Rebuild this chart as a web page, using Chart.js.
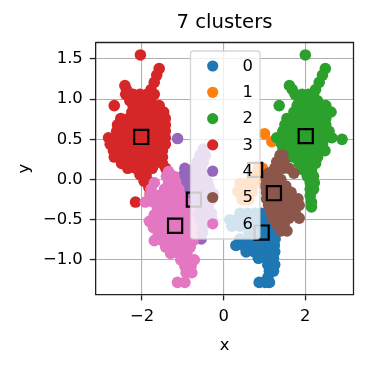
<!DOCTYPE html>
<html><head><meta charset="utf-8">
<script src="https://cdn.jsdelivr.net/npm/chart.js@4/dist/chart.umd.min.js"></script>
<style>html,body{margin:0;padding:0;background:#fff;}#wrap{width:369px;height:369px;}</style>
</head><body><div id="wrap"><canvas id="c" width="369" height="369"></canvas></div>
<script>
const titleText = '7 clusters';
const xLabel = 'x';
const yLabel = 'y';
const clusterLabels = ['0','1','2','3','4','5','6'];
const clusterColors = ['#1f77b4','#ff7f0e','#2ca02c','#d62728','#9467bd','#8c564b','#e377c2'];
const xTicks = [-2, 0, 2];
const yTicks = [-1.0, -0.5, 0.0, 0.5, 1.0, 1.5];
const xRange = [-3.14, 3.18];
const yRange = [-1.433, 1.705];

// each cluster: rows of [y, [x values of points at that y]]
const cluster0 = [
  [-0.42, [0.40, 0.58, 0.76, 0.92]],
  [-0.50, [0.15, 0.32, 0.50, 0.68, 0.86, 1.00]],
  [-0.58, [0.20, 0.40, 0.58, 0.76, 0.94, 1.10]],
  [-0.66, [0.62, 0.80, 0.98, 1.14]],
  [-0.74, [0.40, 0.58, 0.76, 0.94, 1.12, 1.26]],
  [-0.82, [0.30, 0.48, 0.66, 0.86, 1.04, 1.24]],
  [-0.90, [0.55, 0.75, 0.95, 1.15, 1.25]],
  [-0.98, [0.85, 1.05, 1.22]],
  [-1.06, [1.08, 1.25]],
  [-1.14, [1.12, 1.22]],
  [-1.22, [1.08]],
  [-1.28, [0.87, 1.02, 1.12]]
];
const cluster1 = [
  [0.57, [1.00]],
  [0.47, [1.18]],
  [0.14, [0.85, 0.95]],
  [0.05, [0.75, 0.88]],
  [-0.05, [0.40, 0.58, 0.75]],
  [-0.15, [0.35, 0.52, 0.70]],
  [-0.25, [0.45, 0.62]]
];
const cluster2 = [
  [1.55, [2.00]],
  [1.38, [2.49]],
  [1.30, [2.42]],
  [1.21, [2.34]],
  [1.17, [1.61]],
  [1.12, [1.68, 2.25]],
  [1.06, [1.75, 1.92, 2.08, 2.20]],
  [0.98, [1.85, 2.00, 2.15, 2.30]],
  [0.92, [1.36, 1.80, 1.97, 2.15, 2.32, 2.50]],
  [0.84, [1.72, 1.90, 2.10, 2.30, 2.50, 2.63]],
  [0.76, [1.55, 1.75, 1.95, 2.15, 2.35, 2.50]],
  [0.68, [1.50, 1.70, 1.90, 2.10, 2.30, 2.50]],
  [0.60, [1.45, 1.65, 1.85, 2.05, 2.25, 2.45, 2.58]],
  [0.52, [1.30, 1.50, 1.70, 1.90, 2.10, 2.30, 2.50, 2.65]],
  [0.50, [2.90]],
  [0.44, [1.42, 1.62, 1.82, 2.02, 2.22, 2.42]],
  [0.36, [1.45, 1.65, 1.85, 2.05, 2.25, 2.48]],
  [0.28, [1.70, 1.90, 2.10, 2.30]],
  [0.20, [1.85, 2.05, 2.25]],
  [0.12, [1.95, 2.15]],
  [0.04, [2.05, 2.20]],
  [-0.04, [2.12, 2.22]],
  [-0.12, [2.12, 2.20]],
  [-0.20, [2.12]],
  [-0.28, [2.15]],
  [-0.34, [2.15]]
];
const cluster3 = [
  [1.55, [-2.04]],
  [1.38, [-1.58]],
  [1.30, [-1.64]],
  [1.21, [-1.70]],
  [1.17, [-2.42]],
  [1.12, [-2.38, -1.78]],
  [1.06, [-2.40, -2.22, -2.05, -1.88, -1.70]],
  [0.98, [-2.30, -2.12, -1.95, -1.80]],
  [0.92, [-2.68, -2.22, -2.05, -1.88, -1.70, -1.58]],
  [0.84, [-2.25, -2.05, -1.85, -1.65, -1.47]],
  [0.76, [-2.52, -2.33, -2.13, -1.93, -1.73, -1.53, -1.43]],
  [0.68, [-2.60, -2.40, -2.20, -2.00, -1.80, -1.60, -1.43]],
  [0.60, [-2.62, -2.42, -2.22, -2.02, -1.82, -1.62, -1.43]],
  [0.52, [-2.82, -2.62, -2.42, -2.22, -2.02, -1.82, -1.62, -1.43]],
  [0.44, [-2.78, -2.58, -2.38, -2.18, -1.98, -1.78, -1.58, -1.43]],
  [0.36, [-2.70, -2.50, -2.30, -2.10, -1.90, -1.70, -1.50]],
  [0.28, [-2.68, -2.48, -2.28, -2.08, -1.88, -1.68, -1.50]],
  [0.20, [-2.50, -2.30, -2.10, -1.90, -1.70, -1.50]],
  [0.14, [-2.35, -2.15, -1.95, -1.75, -1.42]],
  [0.06, [-2.05, -1.90]],
  [-0.02, [-1.95, -1.85]],
  [-0.10, [-1.83]],
  [-0.18, [-1.80]],
  [-0.28, [-2.16]]
];
const cluster4 = [
  [0.51, [-1.13]],
  [0.38, [-0.50]],
  [0.30, [-0.58, -0.45]],
  [0.22, [-0.65, -0.50]],
  [0.14, [-0.95, -0.70, -0.55]],
  [0.06, [-0.98, -0.80, -0.62, -0.45]],
  [-0.02, [-0.92, -0.75, -0.58, -0.40]],
  [-0.10, [-0.90, -0.72, -0.55, -0.35]],
  [-0.18, [-0.95, -0.78, -0.60, -0.42, -0.25]],
  [-0.26, [-0.85, -0.68, -0.50, -0.32]],
  [-0.34, [-0.72, -0.55, -0.38]],
  [-0.42, [-0.65, -0.48, -0.30]],
  [-0.50, [-0.62, -0.45, -0.28]],
  [-0.58, [-0.65, -0.50]],
  [-0.66, [-0.68, -0.52]],
  [-0.74, [-0.55]]
];
const cluster5 = [
  [0.30, [1.38, 1.45]],
  [0.22, [1.30, 1.48]],
  [0.14, [1.25, 1.45, 1.60]],
  [0.08, [1.10, 1.28, 1.72]],
  [0.00, [1.05, 1.22, 1.40]],
  [-0.08, [1.02, 1.20, 1.38, 1.52]],
  [-0.16, [1.05, 1.25, 1.45, 1.65]],
  [-0.24, [1.05, 1.22, 1.42, 1.62, 1.82]],
  [-0.32, [1.10, 1.28, 1.48, 1.68, 1.85]],
  [-0.40, [1.15, 1.35, 1.55, 1.75]],
  [-0.48, [1.20, 1.40, 1.60, 1.85]],
  [-0.56, [1.30, 1.48]],
  [-0.64, [1.40, 1.55]]
];
const cluster6 = [
  [0.10, [-1.35]],
  [0.04, [-1.40, -1.22]],
  [-0.04, [-1.70, -1.35, -1.18]],
  [-0.12, [-1.78, -1.45, -1.28, -1.10]],
  [-0.20, [-1.80, -1.60, -1.42, -1.22, -1.05]],
  [-0.28, [-1.92, -1.72, -1.52, -1.32, -1.12, -0.95]],
  [-0.36, [-1.62, -1.42, -1.22, -1.02, -0.85]],
  [-0.44, [-1.70, -1.50, -1.30, -1.10, -0.90]],
  [-0.52, [-1.82, -1.62, -1.42, -1.22, -1.02, -0.82]],
  [-0.60, [-1.72, -1.52, -1.32, -1.12, -0.92, -0.78]],
  [-0.68, [-1.60, -1.40, -1.20, -1.00, -0.80]],
  [-0.76, [-1.70, -1.50, -1.30, -1.10, -0.90, -0.75]],
  [-0.84, [-1.42, -1.22, -1.02, -0.82]],
  [-0.92, [-1.30, -1.10, -0.90]],
  [-1.00, [-1.05, -0.88, -0.72]],
  [-1.08, [-0.95, -0.80]],
  [-1.16, [-0.92, -0.78]],
  [-1.28, [-1.13, -0.95]]
];
const clusters = [cluster0, cluster1, cluster2, cluster3, cluster4, cluster5, cluster6];
const centersX = [0.93, 0.77, 2.01, -2.02, -0.73, 1.23, -1.19];
const centersY = [-0.66, 0.12, 0.54, 0.53, -0.25, -0.17, -0.575];

const FONT = 'DejaVu Sans';
const fmt = v => (Math.abs(v) < 1e-9 ? 0 : v);

const datasets = clusters.map((rows, i) => ({
  label: clusterLabels[i],
  data: rows.flatMap(([y, xs]) => xs.map(x => ({x, y}))),
  backgroundColor: clusterColors[i],
  borderWidth: 0,
  pointRadius: 5.8,
  pointHoverRadius: 5.8,
  order: 20 - i
}));
datasets.push({
  label: 'centers',
  data: centersX.map((x, i) => ({x, y: centersY[i]})),
  pointStyle: 'rect',
  pointRadius: 10,
  backgroundColor: 'rgba(0,0,0,0)',
  borderColor: '#000',
  borderWidth: 2.2,
  order: 0
});

const overlayPlugin = {
  id: 'mplOverlay',
  afterDraw(chart) {
    const ctx = chart.ctx;
    const a = chart.chartArea;
    ctx.save();
    // top & right spines
    ctx.strokeStyle = '#222';
    ctx.lineWidth = 1.3;
    ctx.beginPath();
    ctx.moveTo(a.left, a.top); ctx.lineTo(a.right, a.top); ctx.lineTo(a.right, a.bottom);
    ctx.stroke();
    // title centred over the axes
    ctx.fillStyle = '#000';
    ctx.font = '19.7px "' + FONT + '"';
    ctx.textAlign = 'center';
    ctx.textBaseline = 'middle';
    ctx.fillText(titleText, (a.left + a.right) / 2, 23);
    // legend box
    const bx = 190.5, by = 51, bw = 69.5, bh = 188, r = 3;
    ctx.beginPath();
    ctx.moveTo(bx + r, by);
    ctx.arcTo(bx + bw, by, bx + bw, by + bh, r);
    ctx.arcTo(bx + bw, by + bh, bx, by + bh, r);
    ctx.arcTo(bx, by + bh, bx, by, r);
    ctx.arcTo(bx, by, bx + bw, by, r);
    ctx.closePath();
    ctx.fillStyle = 'rgba(255,255,255,0.8)';
    ctx.fill();
    ctx.strokeStyle = 'rgba(204,204,204,0.8)';
    ctx.lineWidth = 1.3;
    ctx.stroke();
    ctx.font = '16.4px "' + FONT + '"';
    ctx.textBaseline = 'middle';
    ctx.textAlign = 'left';
    clusterLabels.forEach((lab, i) => {
      const yy = 66 + i * 26.3;
      ctx.beginPath();
      ctx.arc(212.7, yy, 5.6, 0, Math.PI * 2);
      ctx.fillStyle = clusterColors[i];
      ctx.fill();
      ctx.fillStyle = '#000';
      ctx.fillText(lab, 242.5, yy + 0.5);
    });
    ctx.restore();
  }
};

new Chart(document.getElementById('c'), {
  type: 'scatter',
  data: {datasets},
  options: {
    responsive: false,
    devicePixelRatio: 1,
    animation: false,
    events: [],
    layout: {padding: {left: 0, right: 15.5, top: 42.5, bottom: 0}},
    plugins: {
      legend: {display: false},
      tooltip: {enabled: false},
      title: {display: false}
    },
    scales: {
      x: {
        type: 'linear', min: xRange[0], max: xRange[1], z: 1,
        afterBuildTicks: s => { s.ticks = xTicks.map(v => ({value: v})); },
        afterFit: s => { s.height = 369 - 294.7; },
        ticks: {
          color: '#000', padding: 7, maxRotation: 0,
          font: {family: FONT, size: 16.4},
          callback: v => String(fmt(v)).replace('-', '\u2212')
        },
        grid: {color: '#b0b0b0', lineWidth: 1.1, tickColor: '#222', tickLength: 5.7, tickWidth: 1.3},
        border: {display: true, color: '#222', width: 1.3},
        title: {display: true, text: xLabel, color: '#000', font: {family: FONT, size: 16.4}, padding: {top: 0, bottom: 13}}
      },
      y: {
        type: 'linear', min: yRange[0], max: yRange[1], z: 1,
        afterBuildTicks: s => { s.ticks = yTicks.map(v => ({value: v})); },
        afterFit: s => { s.width = 95.5; },
        ticks: {
          color: '#000', padding: 7,
          font: {family: FONT, size: 16.4},
          callback: v => fmt(v).toFixed(1).replace('-', '\u2212')
        },
        grid: {color: '#b0b0b0', lineWidth: 1.1, tickColor: '#222', tickLength: 5.7, tickWidth: 1.3},
        border: {display: true, color: '#222', width: 1.3},
        title: {display: true, text: yLabel, color: '#000', font: {family: FONT, size: 16.4}, padding: {top: 15, bottom: 0}}
      }
    }
  },
  plugins: [overlayPlugin]
});
</script></body></html>
